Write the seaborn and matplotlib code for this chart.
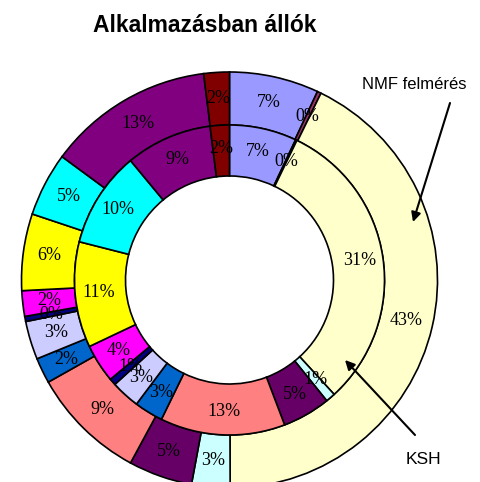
import matplotlib
matplotlib.use("Agg")
import matplotlib.pyplot as plt
import seaborn as sns
import numpy as np

sns.set_theme(style="white")
plt.rcParams['font.family'] = ['Liberation Sans', 'DejaVu Sans']
plt.rcParams['text.color'] = 'black'

# Categories (segments clockwise from 12 o'clock)
categories = ["c1", "c2", "c3", "c4", "c5", "c6", "c7", "c8", "c9", "c10", "c11", "c12", "c13", "c14"]
colors_hex = ["#9999FF", "#993366", "#FFFFCC", "#CCFFFF", "#660066", "#FF8080", "#0066CC",
              "#CCCCFF", "#000080", "#FF00FF", "#FFFF00", "#00FFFF", "#800080", "#800000"]

# Outer ring: NMF felmérés
nmf_values = [7, 0.3, 43, 3, 5, 9, 2, 3, 0.4, 2, 6, 5, 13, 2]
# Inner ring: KSH
ksh_values = [7, 0.15, 31, 1, 5, 13, 3, 3, 0.7, 4, 11, 10, 9, 2]

title = "Alkalmazásban állók"
label_outer = "NMF felmérés"
label_inner = "KSH"

palette = sns.color_palette(colors_hex)

W, H = 481, 482
fig = plt.figure(figsize=(W / 100, H / 100), dpi=100)
ax = fig.add_axes([0, 0, 1, 1])

cx, cy = 229.5, H - 280
r_out, r_mid, r_hole = 208, 155, 104

wp = dict(edgecolor='black', linewidth=1.2)
ax.pie(nmf_values, colors=palette, startangle=90, counterclock=False,
       radius=r_out, center=(cx, cy), wedgeprops=dict(width=r_out - r_mid, **wp),
       frame=True)
ax.pie(ksh_values, colors=palette, startangle=90, counterclock=False,
       radius=r_mid, center=(cx, cy), wedgeprops=dict(width=r_mid - r_hole, **wp),
       frame=True)
ax.set_xlim(0, W)
ax.set_ylim(0, H)
ax.set_aspect('equal')
ax.axis('off')

def add_labels(values, r):
    total = sum(values)
    cum = 0.0
    for v in values:
        mid = cum + v / 2
        ang = np.deg2rad(90 - 360 * mid / total)
        x = cx + r * np.cos(ang)
        y = cy + r * np.sin(ang)
        ax.text(x, y, f"{round(v):d}%", ha='center', va='center',
                fontsize=13, family=['Liberation Serif', 'DejaVu Serif'], color='black')
        cum += v

add_labels(nmf_values, (r_out + r_mid) / 2)
add_labels(ksh_values, (r_mid + r_hole) / 2 + 2)

fig.text(204.5 / W, 1 - 25 / H, title, ha='center', va='center',
         fontsize=16.5, fontweight='bold', color='black')

ax.text(414, H - 84, label_outer, ha='center', va='center', fontsize=12, color='black')
ax.annotate("", xy=(413, H - 222), xytext=(450, H - 103),
            arrowprops=dict(arrowstyle='-|>', color='black', lw=1.5,
                            shrinkA=0, shrinkB=0, mutation_scale=14))
ax.annotate("", xy=(345, H - 360), xytext=(415, H - 435),
            arrowprops=dict(arrowstyle='-|>', color='black', lw=1.5,
                            shrinkA=0, shrinkB=0, mutation_scale=14))
ax.text(423, H - 460, label_inner, ha='center', va='center', fontsize=12.5, color='black')

fig.savefig("out.png", dpi=100)
